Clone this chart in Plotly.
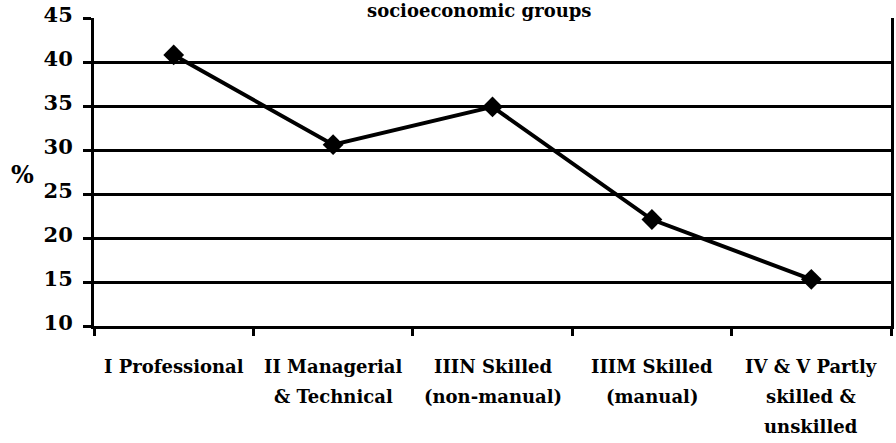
import plotly.graph_objects as go

categories = ["I Professional", "II Managerial & Technical", "IIIN Skilled (non-manual)",
              "IIIM Skilled (manual)", "IV & V Partly skilled & unskilled"]
label_lines = [["I Professional"],
               ["II Managerial", "& Technical"],
               ["IIIN Skilled", "(non-manual)"],
               ["IIIM Skilled", "(manual)"],
               ["IV & V Partly", "skilled &", "unskilled"]]
values = [40.8, 30.6, 34.9, 22.1, 15.3]
y_ticks = [10, 15, 20, 25, 30, 35, 40, 45]
title_text = "socioeconomic groups"
y_label = "%"

FONT = "DejaVu Serif"
L, R, T, B = 94, 2, 17, 117
W, H = 896, 443
ph = H - T - B

fig = go.Figure()
fig.add_trace(go.Scatter(
    x=categories, y=values, mode="lines+markers",
    line=dict(color="black", width=4),
    marker=dict(symbol="diamond", size=16, color="black"),
    showlegend=False, cliponaxis=False,
))

line_px = [367, 397, 427]
annotations = []
for cat, lines in zip(categories, label_lines):
    for i, txt in enumerate(lines):
        annotations.append(dict(
            x=cat, xref="x", y=(H - B - line_px[i]) / ph, yref="paper",
            text="<b>%s</b>" % txt, showarrow=False, xanchor="center", yanchor="middle",
            font=dict(family=FONT, size=18, color="black"),
        ))
annotations.append(dict(
    x=(22 - L) / (W - L - R), xref="paper", y=(H - B - 174) / ph, yref="paper",
    text="<b>%s</b>" % y_label, showarrow=False, xanchor="center", yanchor="middle",
    font=dict(family=FONT, size=24, color="black"),
))
annotations.append(dict(
    x=(480 - L) / (W - L - R), xref="paper", y=(H - B - 9) / ph, yref="paper",
    text="<b>%s</b>" % title_text, showarrow=False, xanchor="center", yanchor="middle",
    font=dict(family=FONT, size=18, color="black"),
))

fig.update_layout(
    width=W, height=H,
    margin=dict(l=L, r=R, t=T, b=B),
    paper_bgcolor="white", plot_bgcolor="white",
    annotations=annotations,
    font=dict(family=FONT, color="black"),
)
fig.update_xaxes(
    type="category", range=[-0.5, 4.5],
    showticklabels=False, showgrid=False,
    showline=True, linecolor="black", linewidth=3,
    ticks="outside", tickson="boundaries", ticklen=7, tickwidth=3, tickcolor="black",
)
fig.update_yaxes(
    range=[10, 45], tickvals=y_ticks, ticktext=["<b>%d</b>" % v for v in y_ticks],
    showgrid=True, gridcolor="black", gridwidth=2.5,
    showline=True, linecolor="black", linewidth=3, mirror=True,
    ticks="outside", ticklen=8, tickwidth=3, tickcolor="black",
    tickfont=dict(family=FONT, size=21, color="black"),
    ticklabelstandoff=6, ticklabelshift=-3, zeroline=False,
)

fig.write_html("out.html", config={"displayModeBar": False},
               post_script="document.body.style.margin='0';document.body.style.padding='0';document.body.style.overflow='hidden';")
